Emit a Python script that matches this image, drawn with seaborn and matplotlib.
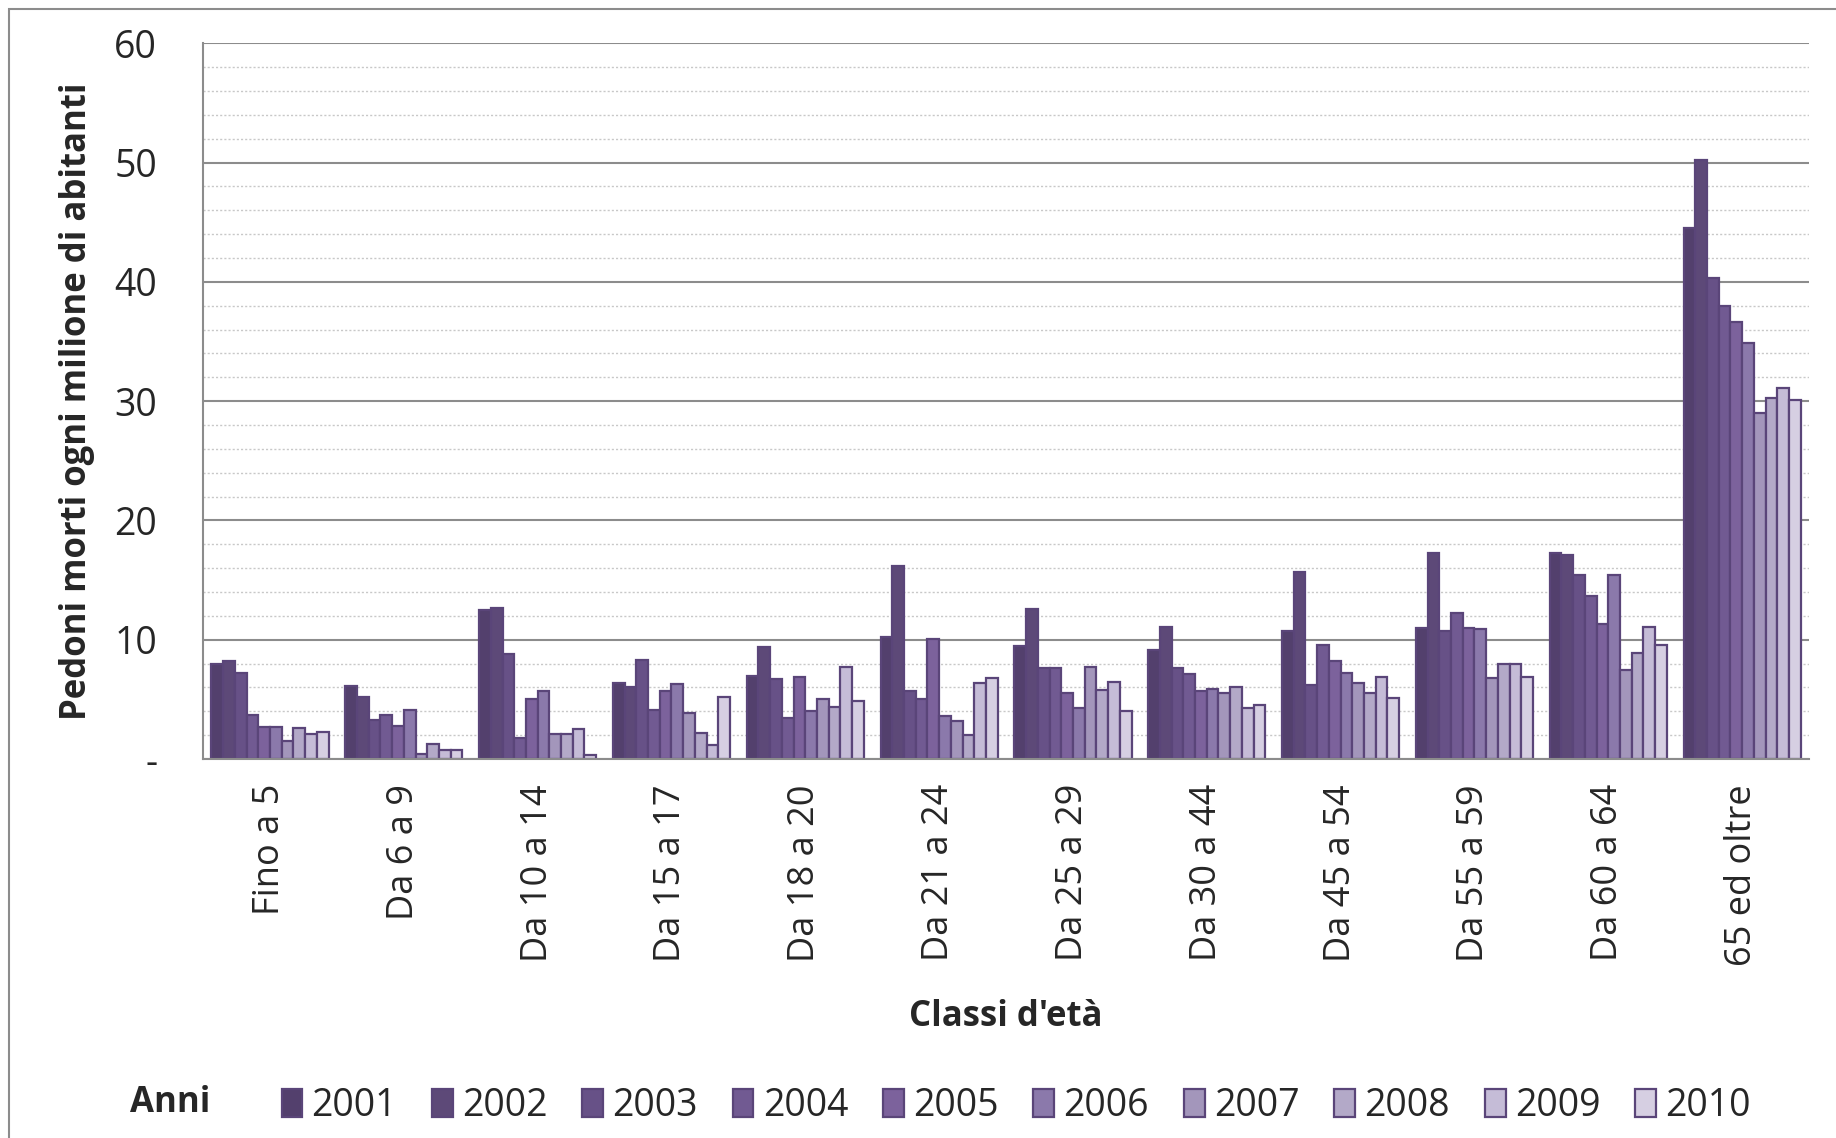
import pandas as pd
import numpy as np
import matplotlib.pyplot as plt
import seaborn as sns
from matplotlib.patches import Patch, Rectangle
from matplotlib.ticker import MultipleLocator, FixedLocator

classi = ['Fino a 5', 'Da 6 a 9', 'Da 10 a 14', 'Da 15 a 17', 'Da 18 a 20',
          'Da 21 a 24', 'Da 25 a 29', 'Da 30 a 44', 'Da 45 a 54',
          'Da 55 a 59', 'Da 60 a 64', '65 ed oltre']
anni = ['2001', '2002', '2003', '2004', '2005', '2006', '2007', '2008', '2009', '2010']

# one list per age class, values for 2001..2010
fino_5 = [8.0, 8.2, 7.2, 3.7, 2.7, 2.7, 1.5, 2.6, 2.1, 2.3]
da_6_9 = [6.1, 5.2, 3.3, 3.7, 2.8, 4.1, 0.4, 1.3, 0.8, 0.8]
da_10_14 = [12.5, 12.7, 8.8, 1.8, 5.0, 5.7, 2.1, 2.1, 2.5, 0.3]
da_15_17 = [6.4, 6.0, 8.3, 4.1, 5.7, 6.3, 3.9, 2.2, 1.2, 5.2]
da_18_20 = [7.0, 9.4, 6.7, 3.4, 6.9, 4.0, 5.0, 4.4, 7.7, 4.9]
da_21_24 = [10.2, 16.2, 5.7, 5.0, 10.1, 3.6, 3.2, 2.0, 6.4, 6.8]
da_25_29 = [9.5, 12.6, 7.6, 7.6, 5.5, 4.3, 7.7, 5.8, 6.5, 4.0]
da_30_44 = [9.1, 11.1, 7.6, 7.1, 5.7, 5.9, 5.5, 6.0, 4.3, 4.5]
da_45_54 = [10.7, 15.7, 6.2, 9.6, 8.2, 7.2, 6.4, 5.5, 6.9, 5.1]
da_55_59 = [11.0, 17.3, 10.7, 12.2, 11.0, 10.9, 6.8, 8.0, 8.0, 6.9]
da_60_64 = [17.3, 17.1, 15.4, 13.7, 11.3, 15.4, 7.5, 8.9, 11.1, 9.6]
oltre_65 = [44.5, 50.2, 40.3, 38.0, 36.6, 34.9, 29.0, 30.3, 31.1, 30.1]

valori = [fino_5, da_6_9, da_10_14, da_15_17, da_18_20, da_21_24,
          da_25_29, da_30_44, da_45_54, da_55_59, da_60_64, oltre_65]

colori = ['#53406d', '#5d4978', '#675187', '#715a92', '#7c629c',
          '#8b79ab', '#a396bb', '#b3a9c8', '#c5bcd7', '#d6cfe2']
bordo = '#5a4579'

rows = []
for c, vals in zip(classi, valori):
    for a, v in zip(anni, vals):
        rows.append({'Classi': c, 'Anno': a, 'Valore': v})
df = pd.DataFrame(rows)

sns.set_style('white')
plt.rcParams['font.family'] = ['Open Sans', 'DejaVu Sans']

fig = plt.figure(figsize=(18.36, 11.38), dpi=100)
ax = fig.add_axes([0.1106, 0.333, 0.8747, 0.629])

sns.barplot(data=df, x='Classi', y='Valore', hue='Anno', order=classi,
            hue_order=anni, palette=colori, width=0.875, edgecolor=bordo,
            linewidth=1.6, saturation=1, legend=False, ax=ax)

ax.set_xlim(-0.5, len(classi) - 0.5)
ax.set_ylim(0, 60)
ax.yaxis.set_minor_locator(MultipleLocator(2))
ax.set_yticks(range(0, 61, 10))
ax.set_yticklabels(['-'] + [str(v) for v in range(10, 61, 10)])
ax.grid(axis='y', which='major', color='#8c8c8c', linewidth=1.5)
ax.grid(axis='y', which='minor', color='#c8c8c8', linewidth=1.0, linestyle=(0, (1.5, 1.5)))
ax.set_axisbelow(True)

ax.xaxis.set_minor_locator(FixedLocator(np.arange(-0.5, len(classi), 1)))
ax.tick_params(axis='x', which='major', length=0, pad=18, labelsize=26, rotation=90)
ax.tick_params(axis='x', which='minor', length=13, width=1.5, color='#8c8c8c', direction='out')
ax.tick_params(axis='y', which='major', length=13, width=1.5, color='#8c8c8c',
               direction='out', labelsize=27, pad=20)
ax.tick_params(axis='y', which='minor', length=0)

for s in ['top', 'right']:
    ax.spines[s].set_visible(False)
for s in ['left', 'bottom']:
    ax.spines[s].set_color('#8c8c8c')
    ax.spines[s].set_linewidth(1.5)

ax.set_xlabel("Classi d'età", fontsize=25, fontweight='bold', labelpad=24)
ax.set_ylabel('Pedoni morti ogni milione di abitanti', fontsize=25,
              fontweight='bold', labelpad=14)

handles = [Patch(facecolor=c, edgecolor=bordo, linewidth=1.6) for c in colori]
fig.legend(handles, anni, loc='center left', bbox_to_anchor=(0.135, 0.028),
           ncol=10, frameon=False, fontsize=27, handlelength=0.55,
           handleheight=0.8, handletextpad=0.25, columnspacing=0.93)
fig.text(0.071, 0.031, 'Anni', fontsize=25, fontweight='bold', va='center')

fig.patches.append(Rectangle((0.0049, -0.02), 1.2, 1.0121, transform=fig.transFigure,
                             fill=False, edgecolor='#8c8c8c', linewidth=1.5))

fig.savefig('out.png', dpi=100)
